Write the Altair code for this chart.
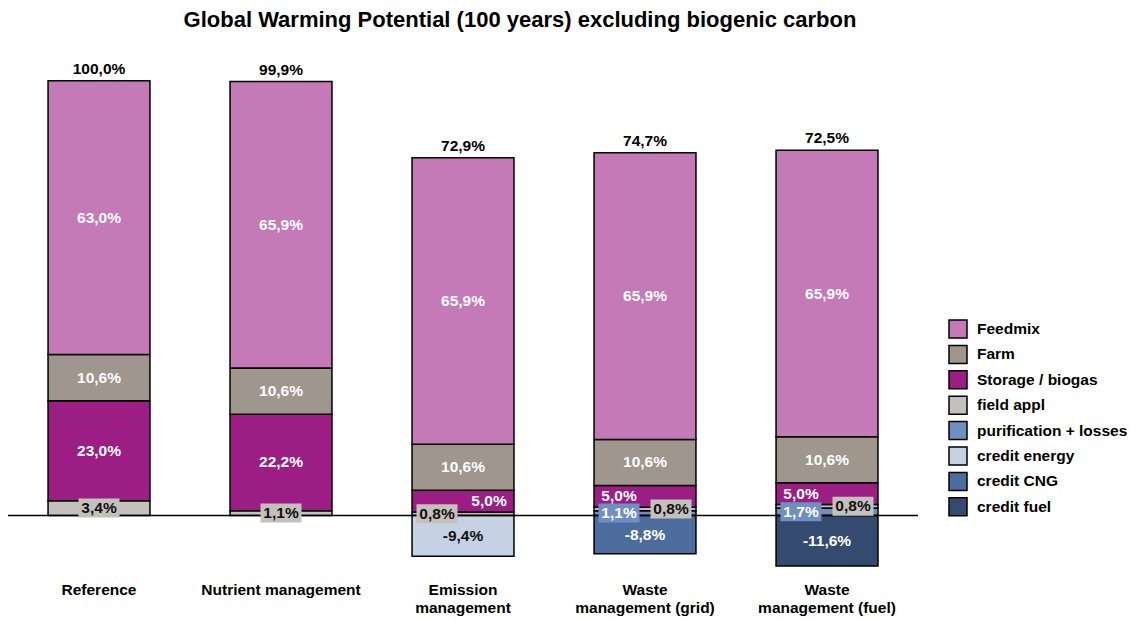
import altair as alt
import pandas as pd

FONT = "Liberation Sans"

categories = ["Reference", "Nutrient management", "Emission\nmanagement",
              "Waste\nmanagement (grid)", "Waste\nmanagement (fuel)"]
components = ["Feedmix", "Farm", "Storage / biogas", "field appl",
              "purification + losses", "credit energy", "credit CNG", "credit fuel"]
colors = ["#C37AB7", "#9F968D", "#9C1E84", "#C4C1BC",
          "#6F8FC1", "#C6D2E4", "#4D6C9E", "#344A6E"]

feedmix = [63.0, 65.9, 65.9, 65.9, 65.9]
farm = [10.6, 10.6, 10.6, 10.6, 10.6]
storage = [23.0, 22.2, 5.0, 5.0, 5.0]
field_appl = [3.4, 1.1, 0.8, 0.8, 0.8]
purification = [0.0, 0.0, 0.0, 1.1, 1.7]
credit_energy = [0.0, 0.0, -9.4, 0.0, 0.0]
credit_cng = [0.0, 0.0, 0.0, -8.8, 0.0]
credit_fuel = [0.0, 0.0, 0.0, 0.0, -11.6]
totals = [100.0, 99.9, 72.9, 74.7, 72.5]

series = {
    "Feedmix": feedmix, "Farm": farm, "Storage / biogas": storage,
    "field appl": field_appl, "purification + losses": purification,
    "credit energy": credit_energy, "credit CNG": credit_cng, "credit fuel": credit_fuel,
}
stack_order = ["purification + losses", "field appl", "Storage / biogas", "Farm", "Feedmix"]
neg_order = ["credit energy", "credit CNG", "credit fuel"]

# label nudges: -1 left of centre, +1 right of centre
nudge = {
    ("Emission\nmanagement", "field appl"): -1,
    ("Emission\nmanagement", "Storage / biogas"): 1,
    ("Waste\nmanagement (grid)", "Storage / biogas"): -1,
    ("Waste\nmanagement (grid)", "purification + losses"): -1,
    ("Waste\nmanagement (grid)", "field appl"): 1,
    ("Waste\nmanagement (fuel)", "Storage / biogas"): -1,
    ("Waste\nmanagement (fuel)", "purification + losses"): -1,
    ("Waste\nmanagement (fuel)", "field appl"): 1,
}
dark_labels = {"field appl", "credit energy"}
boxed = {"field appl", "purification + losses"}


def fmt(v):
    return f"{v:.1f}".replace(".", ",") + "%"


rows = []
tops = []
for i, cat in enumerate(categories):
    cum = 0.0
    for comp in stack_order:
        v = series[comp][i]
        if v > 0:
            rows.append(dict(cat=cat, comp=comp, y0=cum, y1=cum + v))
            cum += v
    tops.append(cum)
    for comp in neg_order:
        v = series[comp][i]
        if v < 0:
            rows.append(dict(cat=cat, comp=comp, y0=0.0, y1=v))
df = pd.DataFrame(rows)
df["mid"] = (df["y0"] + df["y1"]) / 2
df["lab"] = (df["y1"] - df["y0"]).apply(fmt)
df["side"] = [nudge.get((c, k), 0) for c, k in zip(df["cat"], df["comp"])]
df["tc"] = ["#111111" if k in dark_labels else "white" for k in df["comp"]]
df["boxed"] = [k in boxed for k in df["comp"]]

tot = pd.DataFrame({"cat": categories, "top": tops, "lab": [fmt(t) for t in totals]})

xenc = alt.X("cat:N", sort=categories,
             scale=alt.Scale(paddingInner=0.44, paddingOuter=0.22),
             axis=alt.Axis(title=None, domain=False, ticks=False, labelAngle=0,
                           labelFont=FONT, labelFontSize=15.5, labelFontWeight="bold",
                           labelColor="black", labelPadding=10, labelBaseline="top",
                           labelLineHeight=18,
                           labelExpr="split(datum.label, '\\n')"))
yscale = alt.Scale(domain=[-13, 102], nice=False, zero=False)

bars = alt.Chart(df).mark_bar(stroke="black", strokeWidth=1.5, opacity=1).encode(
    x=xenc,
    y=alt.Y("y0:Q", scale=yscale, axis=None),
    y2="y1:Q",
    color=alt.Color("comp:N", scale=alt.Scale(domain=components, range=colors),
                    legend=alt.Legend(title=None, orient="none", legendX=940, legendY=247,
                                      symbolType="square", symbolSize=324,
                                      symbolStrokeColor="black", symbolStrokeWidth=1.5,
                                      symbolOpacity=1,
                                      labelFont=FONT, labelFontSize=15.5,
                                      labelFontWeight="bold", labelColor="black",
                                      rowPadding=1.4, labelOffset=9)),
)

zero = alt.Chart(pd.DataFrame({"z": [0.0]})).mark_rule(color="black", strokeWidth=1.5).encode(
    y=alt.Y("z:Q", scale=yscale, axis=None))

BOX = "M-2.05,-0.95H2.05V0.95H-2.05Z"
layers = [bars, zero]
for s in (-1, 0, 1):
    sub = df[(df["side"] == s)]
    boxes = alt.Chart(sub[sub["boxed"]]).mark_point(
        shape=BOX, size=400, filled=True, opacity=1, strokeWidth=0, xOffset=s * 26
    ).encode(
        x=alt.X("cat:N", sort=categories),
        y=alt.Y("mid:Q", scale=yscale, axis=None),
        fill=alt.Fill("comp:N", scale=alt.Scale(domain=components, range=colors), legend=None),
    )
    texts = alt.Chart(sub).mark_text(
        font=FONT, fontSize=15.5, fontWeight="bold", baseline="middle", xOffset=s * 26
    ).encode(
        x=alt.X("cat:N", sort=categories),
        y=alt.Y("mid:Q", scale=yscale, axis=None),
        text="lab:N",
        color=alt.Color("tc:N", scale=None),
    )
    if len(sub[sub["boxed"]]):
        layers.append(boxes)
    layers.append(texts)

totals_txt = alt.Chart(tot).mark_text(
    font=FONT, fontSize=15.5, fontWeight="bold", baseline="middle", dy=-12, color="black"
).encode(
    x=alt.X("cat:N", sort=categories),
    y=alt.Y("top:Q", scale=yscale, axis=None),
    text="lab:N",
)
layers.append(totals_txt)

chart = alt.layer(*layers).properties(
    width=910, height=500,
    padding={"left": 0, "top": 64, "right": 209, "bottom": 50},
    autosize=alt.AutoSizeParams(type="none"),
    title=alt.TitleParams("Global Warming Potential (100 years) excluding biogenic carbon",
                          font=FONT, fontSize=22, fontWeight="bold", color="black",
                          anchor="middle", dx=57, offset=30),
).configure_view(stroke=None)

chart.save("out.html", embed_options={"renderer": "svg", "actions": False})
